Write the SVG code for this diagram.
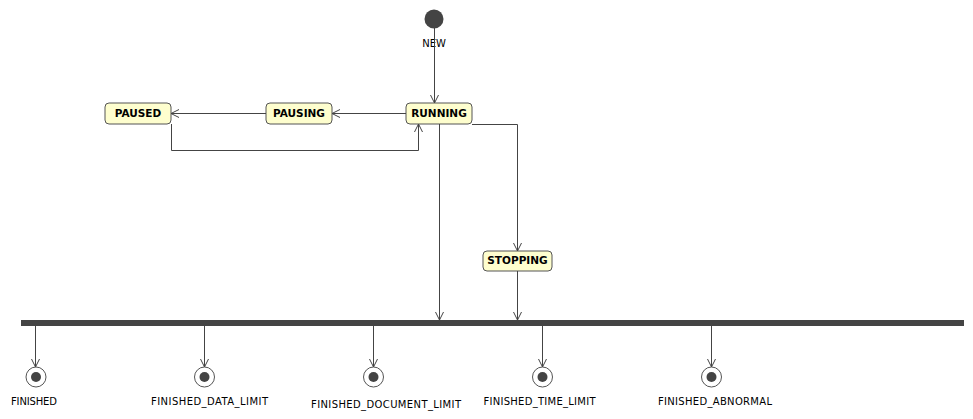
<svg xmlns="http://www.w3.org/2000/svg" width="973" height="419" viewBox="0 0 973 419">
<defs>
<style>
.st rect{fill:#FEFECE;stroke:#555555;stroke-width:1}
.st text{font-family:"DejaVu Sans",sans-serif;font-weight:bold;font-size:10.5px;fill:#000;text-anchor:middle}
.lbl{font-family:"DejaVu Sans",sans-serif;font-size:10px;fill:#000}
.c path{fill:none;stroke:#444444;stroke-width:1}
.fin .o{fill:#fff;stroke:#555;stroke-width:1}
.fin .i{fill:#444}
</style>
<marker id="arr" markerWidth="10" markerHeight="10" refX="8" refY="5" orient="auto" markerUnits="userSpaceOnUse">
<path d="M0,1 L8,5 L0,9" fill="none" stroke="#444" stroke-width="1"/>
</marker>
</defs>
<rect width="973" height="419" fill="#fff"/>

<g id="start">
<circle cx="434" cy="19" r="9.5" fill="#444"/>
<text class="lbl" x="434" y="47" text-anchor="middle">NEW</text>
</g>

<g id="PAUSED" class="st"><rect x="105" y="103" width="66" height="21" rx="4"/><text x="138" y="117">PAUSED</text></g>
<g id="PAUSING" class="st"><rect x="266" y="103" width="66" height="21" rx="4"/><text x="299" y="117">PAUSING</text></g>
<g id="RUNNING" class="st"><rect x="406" y="103" width="66" height="21" rx="4"/><text x="439" y="117">RUNNING</text></g>
<g id="STOPPING" class="st"><rect x="483" y="251" width="69" height="20" rx="4"/><text x="517.5" y="263.5">STOPPING</text></g>

<g id="bar"><rect x="21" y="320" width="943" height="6" fill="#444"/></g>

<g id="FINISHED" class="fin"><circle class="o" cx="36" cy="377" r="10"/><circle class="i" cx="36" cy="377" r="5"/><text class="lbl" x="11" y="405" textLength="46">FINISHED</text></g>
<g id="FINISHED_DATA_LIMIT" class="fin"><circle class="o" cx="204.5" cy="377" r="10"/><circle class="i" cx="204.5" cy="377" r="5"/><text class="lbl" x="151" y="405" textLength="117">FINISHED_DATA_LIMIT</text></g>
<g id="FINISHED_DOCUMENT_LIMIT" class="fin"><circle class="o" cx="373.5" cy="377" r="10"/><circle class="i" cx="373.5" cy="377" r="5"/><text class="lbl" x="311" y="407.5" textLength="150">FINISHED_DOCUMENT_LIMIT</text></g>
<g id="FINISHED_TIME_LIMIT" class="fin"><circle class="o" cx="542.5" cy="377" r="10"/><circle class="i" cx="542.5" cy="377" r="5"/><text class="lbl" x="483.5" y="405" textLength="112">FINISHED_TIME_LIMIT</text></g>
<g id="FINISHED_ABNORMAL" class="fin"><circle class="o" cx="711.5" cy="377" r="10"/><circle class="i" cx="711.5" cy="377" r="5"/><text class="lbl" x="658" y="405" textLength="114">FINISHED_ABNORMAL</text></g>

<g id="connectors" class="c">
<path d="M434.5,28 V103" marker-end="url(#arr)"/>
<path d="M406,113.5 H332" marker-end="url(#arr)"/>
<path d="M266,113.5 H171" marker-end="url(#arr)"/>
<path d="M171.5,124 V150.5 H418.5 V124" marker-end="url(#arr)"/>
<path d="M439.5,124 V320" marker-end="url(#arr)"/>
<path d="M472,124.5 H517.5 V251" marker-end="url(#arr)"/>
<path d="M517.5,271 V320" marker-end="url(#arr)"/>
<path d="M35.5,326 V367" marker-end="url(#arr)"/>
<path d="M204.5,326 V367" marker-end="url(#arr)"/>
<path d="M373.5,326 V367" marker-end="url(#arr)"/>
<path d="M542.5,326 V367" marker-end="url(#arr)"/>
<path d="M711.5,326 V367" marker-end="url(#arr)"/>
</g>
</svg>
